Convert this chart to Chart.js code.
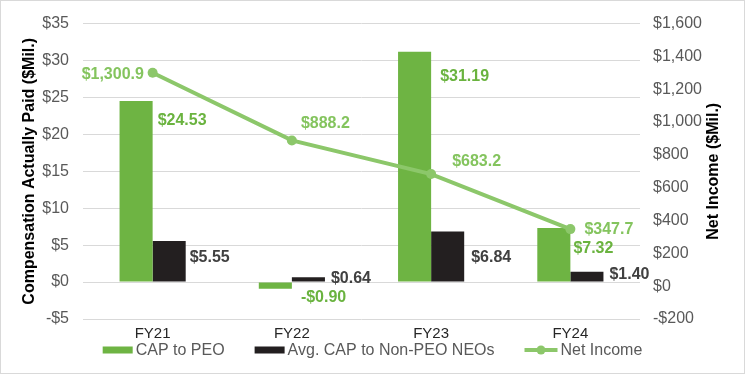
<!DOCTYPE html>
<html>
<head>
<meta charset="utf-8">
<script src="https://cdn.jsdelivr.net/npm/chart.js@4.4.1/dist/chart.umd.min.js"></script>
<style>
  body { margin: 0; background: #fff; }
  #wrap { position: relative; width: 745px; height: 374px; }
  #frame { position: absolute; left: 0; top: 0; right: 0; bottom: 0; border: 1px solid #d9d9d9; pointer-events: none; }
</style>
</head>
<body>
<div id="wrap">
  <canvas id="capChart" width="745" height="374"></canvas>
  <div id="frame"></div>
</div>
<script>
// Chart data
const categories = ['FY21', 'FY22', 'FY23', 'FY24'];
const capPeo = [24.53, -0.90, 31.19, 7.32];
const capNeo = [5.55, 0.64, 6.84, 1.40];
const netIncome = [1300.9, 888.2, 683.2, 347.7];
const seriesNames = ['CAP to PEO', 'Avg. CAP to Non-PEO NEOs', 'Net Income'];

// Axis ranges
const leftMin = -5, leftMax = 35, leftStep = 5;
const rightMin = -200, rightMax = 1600, rightStep = 200;

// Label placement relative to bar right/top or point
const peoLabelOffset = [[5, 20], [9, 9], [9, 25], [3, 21]];
const neoLabelOffset = [[4, 17], [6, 1], [7, 26], [6, 3]];
const netLabelOffset = [[-71, 2], [9, -17], [21, -12], [14, 0]];

const GREEN = '#6EB443';
const LINE_GREEN = '#8CC76A';
const DARK = '#231F20';
const FONT = "'Liberation Sans', Arial, sans-serif";

function money(v, digits) {
  const s = Math.abs(v).toLocaleString('en-US', { minimumFractionDigits: digits, maximumFractionDigits: digits });
  return (v < 0 ? '-$' : '$') + s;
}

// Draws value labels next to bars and points
const valueLabels = {
  id: 'valueLabels',
  afterDatasetsDraw(chart) {
    const ctx = chart.ctx;
    ctx.save();
    ctx.font = 'bold 16px ' + FONT;
    ctx.textAlign = 'left';
    ctx.textBaseline = 'middle';
    const sets = [
      { idx: 0, values: capPeo, offs: peoLabelOffset, color: '#6AB33F', bar: true, digits: 2 },
      { idx: 1, values: capNeo, offs: neoLabelOffset, color: '#404040', bar: true, digits: 2 },
      { idx: 2, values: netIncome, offs: netLabelOffset, color: '#84C45E', bar: false, digits: 1 }
    ];
    sets.forEach(s => {
      const meta = chart.getDatasetMeta(s.idx);
      meta.data.forEach((el, i) => {
        const x0 = s.bar ? el.x + el.width / 2 : el.x;
        ctx.fillStyle = s.color;
        ctx.fillText(money(s.values[i], s.digits), x0 + s.offs[i][0], el.y + s.offs[i][1]);
      });
    });
    ctx.restore();
  }
};

// Axis titles (both read bottom to top) and the legend
const titlesAndLegend = {
  id: 'titlesAndLegend',
  afterDraw(chart) {
    const ctx = chart.ctx;
    const area = chart.chartArea;
    const midY = (area.top + area.bottom) / 2;
    ctx.save();
    ctx.font = 'bold 16px ' + FONT;
    ctx.fillStyle = '#000';
    ctx.textAlign = 'center';
    ctx.textBaseline = 'middle';
    [[30, 'Compensation Actually Paid ($Mil.)'], [714, 'Net Income ($Mil.)']].forEach(t => {
      ctx.save();
      ctx.translate(t[0], midY);
      ctx.rotate(-Math.PI / 2);
      ctx.fillText(t[1], 0, 0);
      ctx.restore();
    });

    // legend
    ctx.font = '16px ' + FONT;
    ctx.textAlign = 'left';
    const markW = [30, 30, 33];
    const gapText = 3, gapItem = 30;
    const widths = seriesNames.map((n, i) => markW[i] + gapText + ctx.measureText(n).width);
    const total = widths.reduce((a, b) => a + b, 0) + gapItem * (seriesNames.length - 1);
    let x = (chart.width - total) / 2;
    const y = 350;
    seriesNames.forEach((n, i) => {
      if (i < 2) {
        ctx.fillStyle = i === 0 ? GREEN : DARK;
        ctx.fillRect(x, y - 3.5, markW[i], 7);
      } else {
        ctx.strokeStyle = LINE_GREEN;
        ctx.lineWidth = 4;
        ctx.beginPath();
        ctx.moveTo(x, y);
        ctx.lineTo(x + markW[i], y);
        ctx.stroke();
        ctx.fillStyle = LINE_GREEN;
        ctx.beginPath();
        ctx.arc(x + markW[i] / 2, y, 4.5, 0, Math.PI * 2);
        ctx.fill();
      }
      ctx.fillStyle = '#595959';
      ctx.fillText(n, x + markW[i] + gapText, y + 1);
      x += widths[i] + gapItem;
    });
    ctx.restore();
  }
};

new Chart(document.getElementById('capChart'), {
  type: 'bar',
  data: {
    labels: categories,
    datasets: [
      {
        label: seriesNames[0],
        data: capPeo,
        backgroundColor: GREEN,
        yAxisID: 'y',
        order: 1,
        categoryPercentage: 0.475,
        barPercentage: 1
      },
      {
        label: seriesNames[1],
        data: capNeo,
        backgroundColor: DARK,
        yAxisID: 'y',
        order: 1,
        categoryPercentage: 0.475,
        barPercentage: 1
      },
      {
        type: 'line',
        label: seriesNames[2],
        data: netIncome,
        borderColor: LINE_GREEN,
        backgroundColor: LINE_GREEN,
        borderWidth: 4,
        pointRadius: 5,
        pointBorderWidth: 0,
        yAxisID: 'y1',
        order: 0
      }
    ]
  },
  options: {
    responsive: false,
    animation: false,
    devicePixelRatio: 1,
    layout: { padding: { top: 16, bottom: 31, left: 0, right: 0 } },
    plugins: {
      legend: { display: false },
      tooltip: { enabled: false }
    },
    scales: {
      x: {
        grid: { display: false, drawTicks: false },
        border: { display: false },
        ticks: { color: '#262626', font: { family: FONT, size: 15 }, padding: 6 },
        afterFit(scale) { scale.height = 24; }
      },
      y: {
        position: 'left',
        min: leftMin,
        max: leftMax,
        grid: { color: '#d9d9d9', drawTicks: false },
        border: { display: false },
        ticks: {
          stepSize: leftStep,
          padding: 14,
          color: '#595959',
          font: { family: FONT, size: 16 },
          callback: v => money(v, 0)
        },
        afterFit(scale) { scale.width = 83; }
      },
      y1: {
        position: 'right',
        min: rightMin,
        max: rightMax,
        grid: { display: false, drawTicks: false },
        border: { display: false },
        ticks: {
          stepSize: rightStep,
          padding: 13,
          color: '#595959',
          font: { family: FONT, size: 16 },
          callback: v => money(v, 0)
        },
        afterFit(scale) { scale.width = 105; }
      }
    }
  },
  plugins: [valueLabels, titlesAndLegend]
});
</script>
</body>
</html>
